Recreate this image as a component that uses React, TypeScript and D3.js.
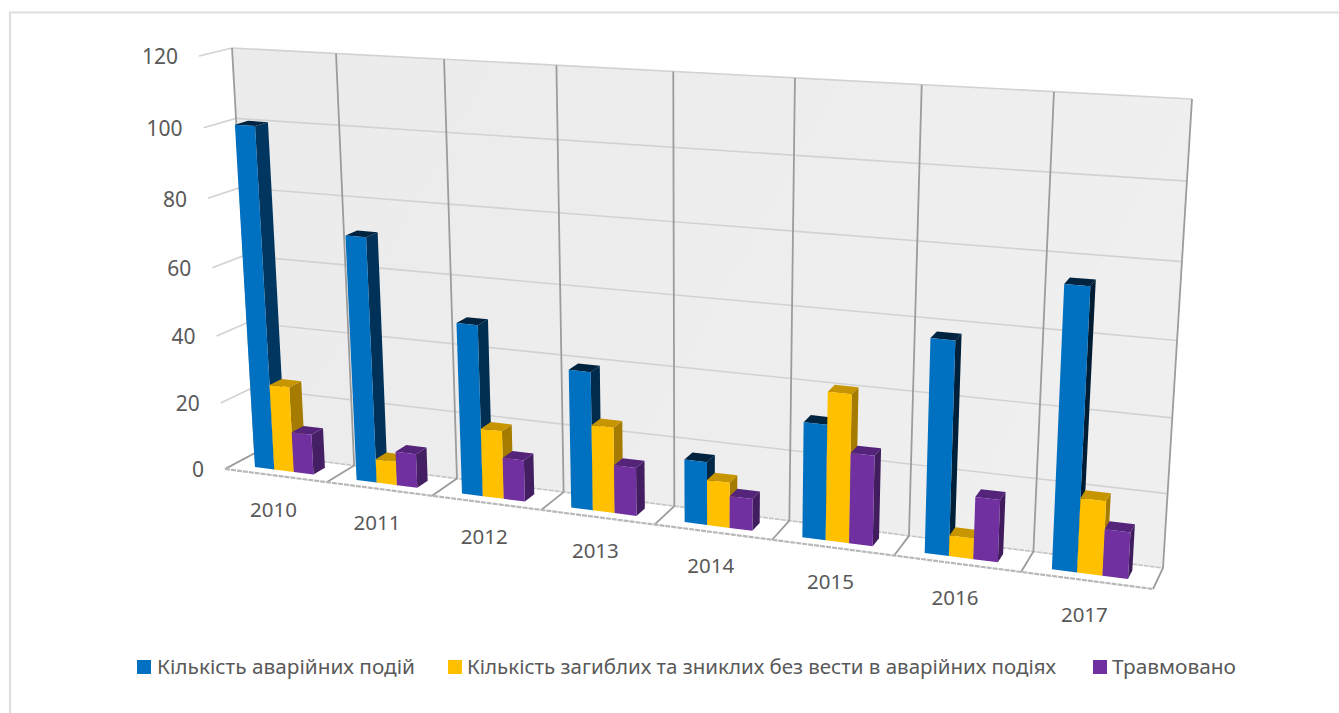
import React from "react";
import * as d3 from "d3";

// Chart values
const categories = ["2010", "2011", "2012", "2013", "2014", "2015", "2016", "2017"];
const seriesNames = [
  "Кількість аварійних подій",
  "Кількість загиблих та зниклих без вести в аварійних подіях",
  "Травмовано",
];
const accidents = [100.5, 71.5, 49.5, 39.5, 17.8, 32, 58, 75];
const casualties = [25.5, 7, 19.8, 24.5, 12.8, 41, 5.7, 20];
const injured = [12, 10, 12, 13.8, 9, 25, 17, 12.5];
const valueTicks = [0, 20, 40, 60, 80, 100, 120];

const seriesValues = [accidents, casualties, injured];
const frontColors = ["#0070c0", "#ffc000", "#7030a0"];
const topColors = ["#00233f", "#c79500", "#54247a"];
const sideColorsLeft = ["#00365f", "#a67c00", "#451f63"];
const sideColorsRight = ["#001c33", "#a67c00", "#3f1c5c"];

type Pt = [number, number];

// Maps the unit square onto a quadrilateral (perspective transform).
function quadMap(q: Pt[]) {
  const [[x0, y0], [x1, y1], [x2, y2], [x3, y3]] = q;
  const dx1 = x1 - x2, dx2 = x3 - x2, dx3 = x0 - x1 + x2 - x3;
  const dy1 = y1 - y2, dy2 = y3 - y2, dy3 = y0 - y1 + y2 - y3;
  const den = dx1 * dy2 - dx2 * dy1;
  const g = (dx3 * dy2 - dx2 * dy3) / den;
  const h = (dx1 * dy3 - dx3 * dy1) / den;
  const a = x1 - x0 + g * x1, b = x3 - x0 + h * x3;
  const d = y1 - y0 + g * y1, e = y3 - y0 + h * y3;
  return (u: number, v: number): Pt => {
    const w = g * u + h * v + 1;
    return [(a * u + b * v + x0) / w, (d * u + e * v + y0) / w];
  };
}

// Box corners: bottom-left, bottom-right, top-right, top-left
const backPlane = quadMap([[255, 453], [1163, 568], [1192, 99], [232, 48]]);
const frontPlane = quadMap([[225, 469], [1153, 589], [1179, 113], [199, 56]]);

// Screen point for a category position, a height and a depth (0 front, 1 back)
function project(u: number, v: number, depth: number): Pt {
  const f = frontPlane(u, v);
  const b = backPlane(u, v);
  return [f[0] + (b[0] - f[0]) * depth, f[1] + (b[1] - f[1]) * depth];
}

const xBand = d3.scaleBand<string>().domain(categories).range([0, 1]).paddingInner(0.42).paddingOuter(0.21);
const seriesBand = d3.scaleBand<string>().domain(seriesNames).range([0, xBand.bandwidth()]);
const yScale = d3.scaleLinear().domain([0, 120]).range([0, 1]);
const barDepth: [number, number] = [0.3, 0.71];

const poly = d3.line<Pt>().curve(d3.curveLinearClosed);
const seg = d3.line<Pt>();

const FONT = "'Noto Sans', sans-serif";
const TEXT = "#595959";

const legendItems = [
  { swatch: 137, text: 157, width: 258 },
  { swatch: 448, text: 467, width: 589 },
  { swatch: 1093, text: 1112, width: 124 },
];

export default function App() {
  const step = xBand.step();
  const cornerU = d3.range(categories.length + 1).map((i) => i * step);

  return (
    <svg
      width={1339}
      height={713}
      style={{ position: "absolute", left: 0, top: 0, background: "#fff", fontFamily: FONT }}
    >
      <defs>
        <linearGradient id="wallFill" x1="0" y1="0" x2="1" y2="0.3">
          <stop offset="0" stopColor="#ebebeb" />
          <stop offset="1" stopColor="#efefef" />
        </linearGradient>
      </defs>

      {/* chart frame */}
      <path d="M10,713 V12.5 H1339" fill="none" stroke="#dedede" strokeWidth={2.2} />

      {/* back wall */}
      <path
        d={poly([project(0, 0, 1), project(1, 0, 1), project(1, 1, 1), project(0, 1, 1)])!}
        fill="url(#wallFill)"
      />

      {/* value gridlines, along the side wall and then the back wall */}
      {valueTicks.map((t) => {
        const v = yScale(t);
        return (
          <path
            key={t}
            d={seg([project(0, v, 0), project(0, v, 1), project(1, v, 1)])!}
            fill="none"
            stroke={t === 0 ? "#c4c4c4" : "#d2d2d2"}
            strokeWidth={1.6}
            strokeDasharray={t === 0 ? "5 1" : undefined}
          />
        );
      })}

      {/* category dividers on the back wall and the floor */}
      {cornerU.map((u, i) => (
        <path
          key={i}
          d={seg([project(u, 0, 0), project(u, 0, 1), project(u, 1, 1)])!}
          fill="none"
          stroke="#9c9c9c"
          strokeWidth={1.8}
        />
      ))}

      {/* front edge of the floor */}
      <path
        d={seg([project(0, 0, 0), project(1, 0, 0)])!}
        fill="none"
        stroke="#b8b8b8"
        strokeWidth={2.2}
        strokeDasharray="5 1"
      />

      {/* bars, painted left to right so that nearer faces overlap */}
      {categories.map((cat, ci) =>
        seriesNames.map((name, si) => {
          const u0 = xBand(cat)! + seriesBand(name)!;
          const u1 = u0 + seriesBand.bandwidth();
          const v = yScale(seriesValues[si][ci]);
          const [d0, d1] = barDepth;
          const side = d3.interpolateRgb(sideColorsLeft[si], sideColorsRight[si])(ci / (categories.length - 1));
          return (
            <g key={`${cat}-${si}`}>
              <path
                d={poly([project(u1, 0, d0), project(u1, 0, d1), project(u1, v, d1), project(u1, v, d0)])!}
                fill={side}
              />
              <path
                d={poly([project(u0, v, d0), project(u1, v, d0), project(u1, v, d1), project(u0, v, d1)])!}
                fill={topColors[si]}
              />
              <path
                d={poly([project(u0, 0, d0), project(u1, 0, d0), project(u1, v, d0), project(u0, v, d0)])!}
                fill={frontColors[si]}
              />
            </g>
          );
        })
      )}

      {/* value axis labels */}
      {valueTicks.map((t) => {
        const [x, y] = project(0, yScale(t), 0);
        return (
          <text key={t} x={x - 21} y={y + 1} dy="0.35em" textAnchor="end" fontSize={21} fill={TEXT}>
            {t}
          </text>
        );
      })}

      {/* category labels */}
      {categories.map((cat) => {
        const u = xBand(cat)! + xBand.bandwidth() / 2;
        const [x, y] = project(u, 0, 0);
        return (
          <text key={cat} x={x - 2} y={y + 34} dy="0.35em" textAnchor="middle" fontSize={20.5} fill={TEXT}>
            {cat}
          </text>
        );
      })}

      {/* legend */}
      {seriesNames.map((name, i) => (
        <g key={name}>
          <rect x={legendItems[i].swatch} y={660} width={14} height={14} fill={frontColors[i]} />
          <text
            x={legendItems[i].text}
            y={674}
            fontSize={20}
            fill={TEXT}
            textLength={legendItems[i].width}
            lengthAdjust="spacingAndGlyphs"
          >
            {name}
          </text>
        </g>
      ))}
    </svg>
  );
}
